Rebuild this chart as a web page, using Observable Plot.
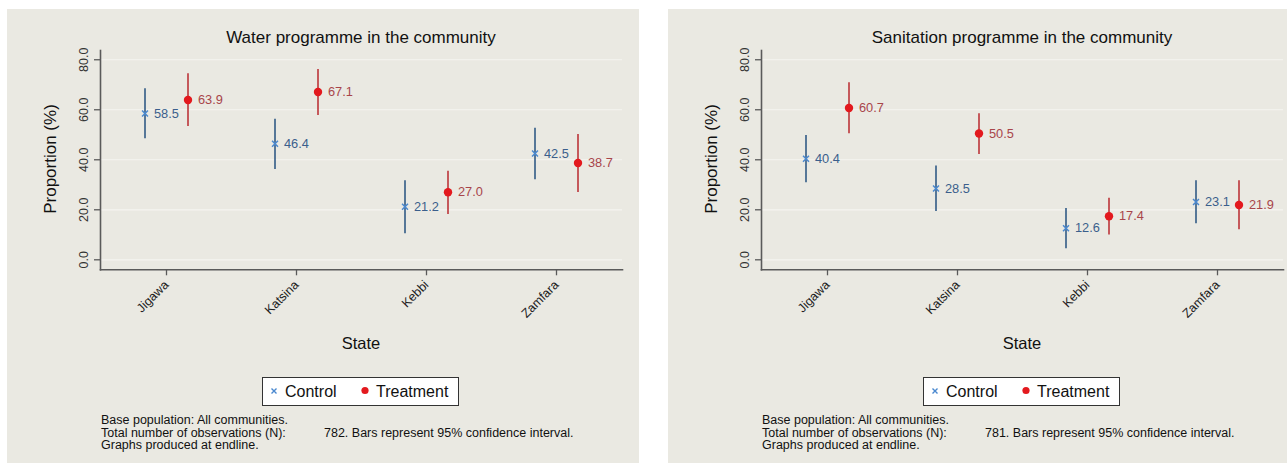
<!DOCTYPE html>
<html>
<head>
<meta charset="utf-8">
<script src="https://cdn.jsdelivr.net/npm/d3@7"></script>
<script src="https://cdn.jsdelivr.net/npm/@observablehq/plot@0.6"></script>
<style>
  html, body { margin: 0; padding: 0; background: #ffffff; }
  body { width: 1287px; height: 463px; position: relative; overflow: hidden;
         font-family: "Liberation Sans", Arial, sans-serif; }
  .panel { position: absolute; background: #eae9e2; overflow: hidden; }
  .panel svg { position: absolute; left: 0; top: 0; overflow: visible; }
  .title { position: absolute; left: 93px; width: 522px; top: 19px; line-height: 20px;
           text-align: center; font-size: 17px; color: #111; }
  .ytitle { position: absolute; left: 44px; top: 150px; font-size: 17px; color: #111;
            transform: translate(-50%, -50%) rotate(-90deg); white-space: nowrap; }
  .xtitle { position: absolute; left: 93px; width: 522px; top: 324px; line-height: 20px;
            text-align: center; font-size: 16.5px; color: #111; }
  .legend { position: absolute; left: 255px; top: 368px; width: 195px; height: 27px;
            background: #fff; border: 1.5px solid #333; }
  .legend .lab { position: absolute; top: 5px; font-size: 16px; line-height: 18px; color: #111; }
  .legend svg { position: absolute; left: 0; top: 0; }
  .foot { position: absolute; left: 94px; font-size: 12.5px; line-height: 13px; color: #111; white-space: nowrap; }
  .panel svg g[aria-label="y-axis tick label"] text,
  .panel svg g[aria-label="x-axis tick label"] text { font-size: 12.5px; }
</style>
</head>
<body>
<script>
const states = ["Jigawa", "Katsina", "Kebbi", "Zamfara"];

const waterControl   = [58.5, 46.4, 21.2, 42.5];
const waterControlLo = [48.4, 36.1, 10.4, 32.0];
const waterControlHi = [68.4, 56.2, 31.6, 52.6];
const waterTreat     = [63.9, 67.1, 27.0, 38.7];
const waterTreatLo   = [53.3, 57.7, 18.1, 26.9];
const waterTreatHi   = [74.4, 76.1, 35.4, 50.1];

const sanControl   = [40.4, 28.5, 12.6, 23.1];
const sanControlLo = [30.8, 19.3, 4.4, 14.4];
const sanControlHi = [49.7, 37.5, 20.5, 31.6];
const sanTreat     = [60.7, 50.5, 17.4, 21.9];
const sanTreatLo   = [50.4, 42.1, 9.9, 12.0];
const sanTreatHi   = [70.8, 58.4, 24.6, 31.6];

const yTicks = [0, 20, 40, 60, 80];
const titles = ["Water programme in the community", "Sanitation programme in the community"];
const obsN = [782, 781];

const C_LINE = "#24507f", C_MARK = "#4a88cf", C_LAB = "#3b5f8c";
const T_LINE = "#b8282e", T_MARK = "#e3191e", T_LAB = "#a8454a";

function rows(v, lo, hi) {
  return states.map((s, i) => ({state: s, v: v[i], lo: lo[i], hi: hi[i]}));
}

const panels = [
  {left: 7, width: 632, control: rows(waterControl, waterControlLo, waterControlHi),
   treat: rows(waterTreat, waterTreatLo, waterTreatHi)},
  {left: 668, width: 619, control: rows(sanControl, sanControlLo, sanControlHi),
   treat: rows(sanTreat, sanTreatLo, sanTreatHi)}
];

const fmt = d3.format(".1f");

panels.forEach((p, k) => {
  const div = document.createElement("div");
  div.className = "panel";
  div.style.left = p.left + "px";
  div.style.top = "9px";
  div.style.width = p.width + "px";
  div.style.height = "454px";
  document.body.appendChild(div);

  const off = 21.5;
  const chart = Plot.plot({
    width: p.width,
    height: 454,
    marginLeft: 93,
    marginRight: p.width - 93 - 522,
    marginTop: 41,
    marginBottom: 193.7,
    x: {type: "band", domain: states, padding: 0, label: null},
    y: {domain: [-4, 83.7], label: null},
    style: {background: "transparent", fontFamily: "Liberation Sans, Arial, sans-serif", overflow: "visible"},
    marks: [
      Plot.gridY(yTicks, {stroke: "#f5f4f0", strokeOpacity: 1, strokeWidth: 1.2}),
      Plot.frame({anchor: "left", stroke: "#5a5a5a", strokeWidth: 1.6}),
      Plot.frame({anchor: "bottom", stroke: "#5a5a5a", strokeWidth: 1.6}),
      Plot.axisY(yTicks, {tickFormat: fmt, tickRotate: -90, tickSize: 6, tickPadding: 7,
        fontSize: 12.5, color: "#333", stroke: "#5a5a5a", strokeWidth: 1.3, label: null}),
      Plot.axisX({tickRotate: -45, tickSize: 6, tickPadding: 7, fontSize: 12.5, color: "#222",
        stroke: "#5a5a5a", strokeWidth: 1.3, label: null}),
      Plot.ruleX(p.control, {x: "state", y1: "lo", y2: "hi", dx: -off, stroke: C_LINE, strokeWidth: 1.5}),
      Plot.ruleX(p.treat, {x: "state", y1: "lo", y2: "hi", dx: off, stroke: T_LINE, strokeWidth: 1.5}),
      Plot.dot(p.control, {x: "state", y: "v", dx: -off, symbol: "times", r: 2.8, stroke: C_MARK, strokeWidth: 1.5}),
      Plot.dot(p.treat, {x: "state", y: "v", dx: off, r: 4.2, fill: T_MARK, stroke: null}),
      Plot.text(p.control, {x: "state", y: "v", text: d => fmt(d.v), dx: -off + 9, textAnchor: "start",
        fill: C_LAB, fontSize: 12.8}),
      Plot.text(p.treat, {x: "state", y: "v", text: d => fmt(d.v), dx: off + 10, textAnchor: "start",
        fill: T_LAB, fontSize: 12.8})
    ]
  });
  div.appendChild(chart);

  const t = document.createElement("div"); t.className = "title"; t.textContent = titles[k]; div.appendChild(t);
  const yt = document.createElement("div"); yt.className = "ytitle"; yt.textContent = "Proportion (%)"; div.appendChild(yt);
  const xt = document.createElement("div"); xt.className = "xtitle"; xt.textContent = "State"; div.appendChild(xt);

  const lg = document.createElement("div"); lg.className = "legend";
  lg.innerHTML =
    `<svg width="195" height="27">
       <path d="M8.5,10.5 L13.5,15.5 M13.5,10.5 L8.5,15.5" stroke="${C_MARK}" stroke-width="1.4" fill="none"/>
       <circle cx="102" cy="12.5" r="3.6" fill="${T_MARK}"/>
     </svg>
     <span class="lab" style="left:22px">Control</span>
     <span class="lab" style="left:113px">Treatment</span>`;
  div.appendChild(lg);

  const lines = ["Base population: All communities.", "Total number of observations (N):", "Graphs produced at endline."];
  const tops = [404.5, 417.5, 430];
  lines.forEach((s, i) => {
    const f = document.createElement("div"); f.className = "foot";
    f.style.top = tops[i] + "px"; f.textContent = s; div.appendChild(f);
  });
  const f2 = document.createElement("div"); f2.className = "foot";
  f2.style.left = "317px"; f2.style.top = tops[1] + "px";
  f2.textContent = `${obsN[k]}. Bars represent 95% confidence interval.`;
  div.appendChild(f2);
});
</script>
</body>
</html>
